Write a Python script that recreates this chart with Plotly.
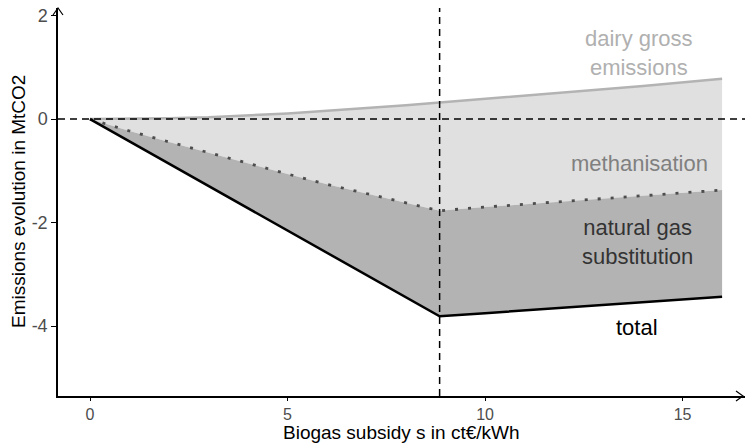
import plotly.graph_objects as go

# ---- data ----
subsidy = [0, 1, 2, 3, 4, 5, 6, 7, 8, 8.85, 10, 12, 14, 16]
dairy_gross = [0, 0.003, 0.015, 0.035, 0.07, 0.11, 0.16, 0.21, 0.27, 0.32, 0.39, 0.51, 0.64, 0.78]
methanisation = [0, -0.23, -0.44, -0.65, -0.86, -1.06, -1.26, -1.44, -1.62, -1.77, -1.70, -1.59, -1.48, -1.37]
total = [0, -0.43, -0.86, -1.29, -1.72, -2.15, -2.58, -3.01, -3.44, -3.81, -3.75, -3.64, -3.54, -3.43]
threshold_s = 8.85

x_ticks = [0, 5, 10, 15]
y_ticks = [-4, -2, 0, 2]
y_tick_labels = ["-4", "-2", "0", "2"]

FONT = "Liberation Sans, Arial, sans-serif"

fig = go.Figure()
fig.add_trace(go.Scatter(x=subsidy, y=dairy_gross, mode="lines",
                         line=dict(color="#b3b3b3", width=2.5), showlegend=False))
fig.add_trace(go.Scatter(x=subsidy, y=methanisation, mode="lines", fill="tonexty",
                         fillcolor="#e0e0e0",
                         line=dict(color="#4d4d4d", width=2.8, dash="3px,10px"), showlegend=False))
fig.add_trace(go.Scatter(x=subsidy, y=total, mode="lines", fill="tonexty",
                         fillcolor="#b3b3b3",
                         line=dict(color="#000000", width=2.5), showlegend=False))

# reference lines
fig.add_hline(y=0, line=dict(color="black", width=1.5, dash="7px,5px"), layer="above")
fig.add_vline(x=threshold_s, line=dict(color="black", width=1.5, dash="7px,5px"), layer="above")

# axis arrows (open chevrons)
fig.add_shape(type="path", xref="paper", yref="paper", xsizemode="pixel", ysizemode="pixel",
              xanchor=0, yanchor=1, path="M -5,-7 L 0,0 L 5,-7",
              line=dict(color="black", width=1.2))
fig.add_shape(type="path", xref="paper", yref="paper", xsizemode="pixel", ysizemode="pixel",
              xanchor=1, yanchor=0, path="M -9,5 L -2,0 L -9,-5",
              line=dict(color="black", width=1.2))

labels = [
    ("dairy gross<br>emissions", 13.9, 1.27, "#b0b0b0"),
    ("methanisation", 13.9, -0.86, "#808080"),
    ("natural gas<br>substitution", 13.85, -2.38, "#333333"),
    ("total", 13.85, -4.02, "#000000"),
]
for txt, lx, ly, col in labels:
    fig.add_annotation(x=lx, y=ly, text=txt, showarrow=False,
                       font=dict(family=FONT, size=22, color=col))

# axis titles
fig.add_annotation(xref="paper", yref="paper", x=0.5, y=0, yanchor="middle",
                   yshift=-36, text="Biogas subsidy s in ct€/kWh", showarrow=False,
                   font=dict(family=FONT, size=19, color="black"))
fig.add_annotation(xref="paper", yref="paper", x=0, y=0.5, xanchor="center",
                   xshift=-40, textangle=-90, text="Emissions evolution in MtCO2",
                   showarrow=False, font=dict(family=FONT, size=19, color="black"))

fig.update_layout(
    width=745, height=444,
    margin=dict(l=58, r=0, t=8, b=48, autoexpand=False),
    plot_bgcolor="white", paper_bgcolor="white",
    font=dict(family=FONT),
    xaxis=dict(range=[-0.81, 16.58], tickvals=x_ticks, showgrid=False, zeroline=False,
               showline=True, linecolor="black", linewidth=1.5,
               ticks="outside", ticklen=3, tickcolor="black", tickwidth=1.2,
               tickfont=dict(size=16, color="#4d4d4d")),
    yaxis=dict(range=[-5.35, 2.147], tickvals=y_ticks, ticktext=y_tick_labels,
               showgrid=False, zeroline=False,
               showline=True, linecolor="black", linewidth=1.5,
               ticks="outside", ticklen=5, tickcolor="black", tickwidth=1.2,
               tickfont=dict(size=18, color="#4d4d4d")),
)

fig.write_html("out.html")
